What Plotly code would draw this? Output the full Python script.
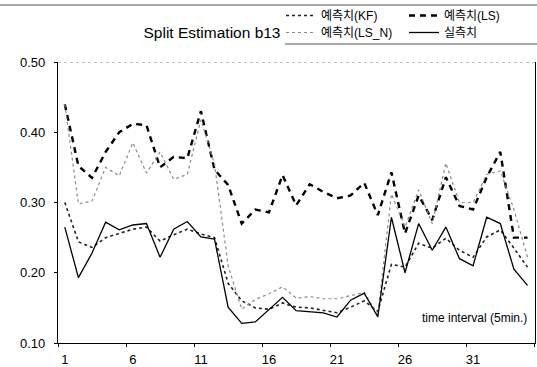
import plotly.graph_objects as go

x_vals = list(range(1, 36))
x_tick_vals = [1, 6, 11, 16, 21, 26, 31]
x_tick_text = ["1", "6", "11", "16", "21", "26", "31"]
y_tick_vals = [0.10, 0.20, 0.30, 0.40, 0.50]

pred_kf = [0.300, 0.244, 0.236, 0.250, 0.256, 0.262, 0.265, 0.245, 0.254, 0.262,
           0.255, 0.250, 0.185, 0.160, 0.150, 0.148, 0.157, 0.151, 0.150, 0.147,
           0.143, 0.151, 0.160, 0.145, 0.212, 0.208, 0.242, 0.235, 0.249, 0.232,
           0.222, 0.251, 0.261, 0.235, 0.208]
pred_ls = [0.440, 0.352, 0.335, 0.372, 0.400, 0.412, 0.410, 0.350, 0.365, 0.363,
           0.430, 0.347, 0.325, 0.270, 0.290, 0.286, 0.339, 0.296, 0.326, 0.315,
           0.306, 0.310, 0.328, 0.282, 0.343, 0.256, 0.310, 0.275, 0.336, 0.295,
           0.290, 0.336, 0.372, 0.250, 0.250]
pred_ls_n = [0.440, 0.298, 0.302, 0.350, 0.338, 0.385, 0.342, 0.372, 0.333, 0.340,
             0.418, 0.355, 0.210, 0.148, 0.162, 0.170, 0.180, 0.164, 0.166, 0.163,
             0.163, 0.168, 0.172, 0.140, 0.312, 0.265, 0.318, 0.270, 0.356, 0.300,
             0.300, 0.340, 0.345, 0.290, 0.222]
actual = [0.265, 0.193, 0.228, 0.272, 0.261, 0.268, 0.270, 0.222, 0.262, 0.273,
          0.251, 0.248, 0.151, 0.128, 0.130, 0.148, 0.165, 0.146, 0.145, 0.143,
          0.137, 0.161, 0.171, 0.137, 0.279, 0.200, 0.270, 0.232, 0.265, 0.220,
          0.210, 0.279, 0.270, 0.205, 0.182]

FONT = "Liberation Sans, Arial, Noto Sans CJK KR, sans-serif"
LFONT = "Liberation Sans, Noto Sans CJK KR, sans-serif"

fig = go.Figure()
fig.add_trace(go.Scatter(x=x_vals, y=pred_kf, mode="lines", name="예측치(KF)",
                         line=dict(color="#222222", width=1.6, dash="dot"), legend="legend"))
fig.add_trace(go.Scatter(x=x_vals, y=pred_ls, mode="lines", name="예측치(LS)",
                         line=dict(color="#000000", width=2.4, dash="6px,5px"), legend="legend"))
fig.add_trace(go.Scatter(x=x_vals, y=pred_ls_n, mode="lines", name="예측치(LS_N)",
                         line=dict(color="#8a8a8a", width=1.2, dash="dot"), legend="legend2"))
fig.add_trace(go.Scatter(x=x_vals, y=actual, mode="lines", name="실측치",
                         line=dict(color="#000000", width=1.3), legend="legend2"))

W, H = 537, 367
L, R, T, B = 58, 2, 62, 24
ph = H - T - B
pw = W - L - R

def py(q):
    return (H - B - q) / ph

def px(p):
    return (p - L) / pw

leg_common = dict(orientation="h", xref="container", yref="container",
                  xanchor="left", yanchor="top", bgcolor="rgba(0,0,0,0)",
                  font=dict(family=LFONT, size=12, color="#000000"),
                  entrywidth=78, entrywidthmode="pixels", itemwidth=30,
                  tracegroupgap=0)

fig.update_layout(
    width=W, height=H,
    margin=dict(l=L, r=R, t=T, b=B, autoexpand=False),
    paper_bgcolor="white", plot_bgcolor="white",
    showlegend=True,
    legend=dict(x=281 / W, y=1 - 1 / H, **leg_common),
    legend2=dict(x=281 / W, y=1 - 18 / H, **leg_common),
    title=dict(text="Split Estimation b13", x=212 / W, xanchor="center",
               y=1 - 33 / H, yanchor="middle", xref="container", yref="container",
               font=dict(family=FONT, size=15.5, color="#000000")),
    xaxis=dict(range=[0.5, 35.55], tickvals=x_tick_vals, ticktext=x_tick_text,
               automargin=False,
               showgrid=False, zeroline=False, showline=True, linecolor="#000000",
               linewidth=1.2, ticks="", tickfont=dict(family=FONT, size=13, color="#000000"),
               minor=dict(tick0=0.5, dtick=5, ticks="outside", ticklen=3, tickcolor="#000000"),
               ticklabelstandoff=4),
    yaxis=dict(range=[0.10, 0.50], tickvals=y_tick_vals, tickformat=".2f",
               automargin=False,
               showgrid=False, zeroline=False, showline=True, linecolor="#000000",
               linewidth=1.2, mirror=True, ticks="outside", ticklen=3, tickcolor="#000000",
               tickfont=dict(family=FONT, size=13, color="#000000"), ticklabelstandoff=6),
    annotations=[dict(text="time interval (5min.)", x=1 - 6 / pw, y=py(318), xref="paper",
                      yref="paper", xanchor="right", yanchor="middle", showarrow=False,
                      font=dict(family=FONT, size=12, color="#000000"))],
    shapes=[
        dict(type="line", xref="paper", yref="y", x0=0, x1=1, y0=0.5, y1=0.5,
             line=dict(color="#888888", width=1, dash="dot")),
        dict(type="line", xref="paper", yref="paper", x0=px(0), x1=px(W), y0=py(5), y1=py(5),
             line=dict(color="#555555", width=1)),
        dict(type="line", xref="paper", yref="paper", x0=px(285), x1=px(W), y0=py(44), y1=py(44),
             line=dict(color="#555555", width=1)),
    ],
)

fig.write_html("out.html")
